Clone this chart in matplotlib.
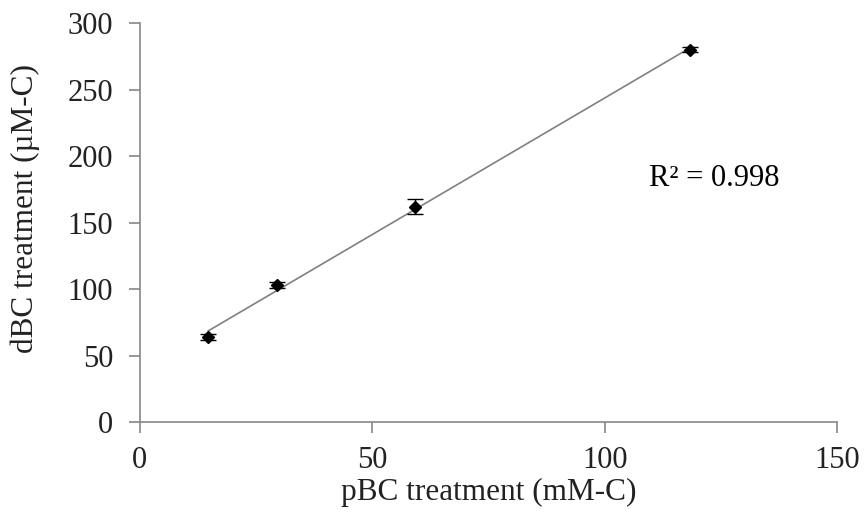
import matplotlib
matplotlib.use("Agg")
import matplotlib.pyplot as plt
import numpy as np

# pBC treatment (mM-C) vs dBC treatment (uM-C)
pbc = [14.8, 29.6, 59.2, 118.4]
dbc = [64, 103, 162, 280]
dbc_err = [2.5, 2.0, 5.5, 2.0]

plt.rcParams['font.family'] = ['Liberation Serif', 'DejaVu Serif']

fig = plt.figure(figsize=(8.64, 5.25), dpi=100)
ax = fig.add_axes([0.1615, 0.196, 0.8075, 0.760])

# linear fit
m, c = np.polyfit(pbc, dbc, 1)
xfit = np.array([min(pbc), max(pbc)])
ax.plot(xfit, m * xfit + c, '-', color='#808080', lw=1.2, zorder=1)

ax.errorbar(pbc, dbc, yerr=dbc_err, fmt='D', color='black', ms=6,
            ecolor='black', elinewidth=1, capsize=6, capthick=1, zorder=2)

ax.text(109.5, 183, 'R² = 0.998', fontsize=22, va='center', ha='left')

ax.set_xlim(0, 150)
ax.set_ylim(0, 300)
ax.set_xticks([0, 50, 100, 150])
ax.set_yticks(range(0, 301, 50))
ax.spines['top'].set_visible(False)
ax.spines['right'].set_visible(False)
for s in ['left', 'bottom']:
    ax.spines[s].set_color('#888888')
    ax.spines[s].set_linewidth(1.2)
ax.tick_params(axis='both', colors='#888888', labelcolor='#222222',
               length=8, width=1.2, labelsize=22, direction='out')
ax.tick_params(axis='x', pad=9)
ax.tick_params(axis='y', pad=11)

ax.set_xlabel('pBC treatment (mM-C)', fontsize=22.5, color='#222222', labelpad=2)
ax.set_ylabel('dBC treatment (µM-C)', fontsize=22.5, color='#222222')
ax.yaxis.set_label_coords(-0.143, 0.535)

fig.savefig('out.png', dpi=100)
